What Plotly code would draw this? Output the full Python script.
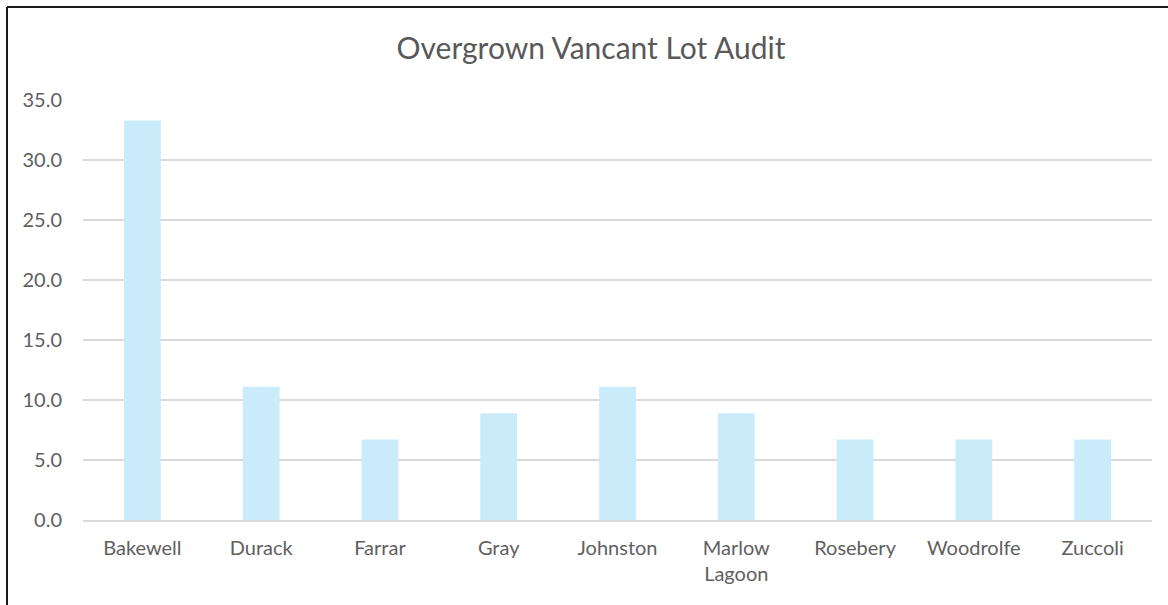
import plotly.graph_objects as go

suburbs = ["Bakewell", "Durack", "Farrar", "Gray", "Johnston",
           "Marlow<br>Lagoon", "Rosebery", "Woodrolfe", "Zuccoli"]
lot_share = [33.3, 11.1, 6.7, 8.9, 11.1, 8.9, 6.7, 6.7, 6.7]
y_ticks = [0, 5, 10, 15, 20, 25, 30, 35]

W, H = 1168, 605
L, R, T, B = 83, 16, 100, 85
pw, ph = W - L - R, H - T - B


def px_x(v):
    return (v - L) / pw


def px_y(v):
    return (H - B - v) / ph


fig = go.Figure(
    go.Bar(x=suburbs, y=lot_share, marker=dict(color="#CAEBFA", line=dict(width=0)))
)

fig.update_layout(
    width=W, height=H,
    margin=dict(l=L, r=R, t=T, b=B),
    paper_bgcolor="white", plot_bgcolor="white",
    bargap=0.69,
    showlegend=False,
    font=dict(family="Lato, Open Sans, sans-serif", color="#606060", size=20),
    title=dict(text="Overgrown Vancant Lot Audit", xref="paper", x=px_x(591),
               xanchor="center", y=1 - 48 / H, yanchor="middle",
               font=dict(size=30, color="#595959")),
)
fig.update_yaxes(range=[0, 35], tickvals=y_ticks, tickformat=".1f",
                 showgrid=True, gridcolor="#D9D9D9", gridwidth=1.5,
                 zeroline=False, showline=False, ticks="", ticklabelstandoff=20)
fig.update_xaxes(showline=True, linecolor="#D9D9D9", linewidth=1.5,
                 ticks="", ticklabelstandoff=9)

# chart border (only top and left visible in the frame)
fig.add_shape(type="line", xref="paper", yref="paper",
              x0=px_x(7), x1=px_x(W + 5), y0=px_y(7), y1=px_y(7),
              line=dict(color="#1a1a1a", width=2))
fig.add_shape(type="line", xref="paper", yref="paper",
              x0=px_x(7), x1=px_x(7), y0=px_y(7), y1=px_y(H + 5),
              line=dict(color="#1a1a1a", width=2))

fig.write_html("out.html", config={"displayModeBar": False},
               post_script="document.body.style.margin='0';")
